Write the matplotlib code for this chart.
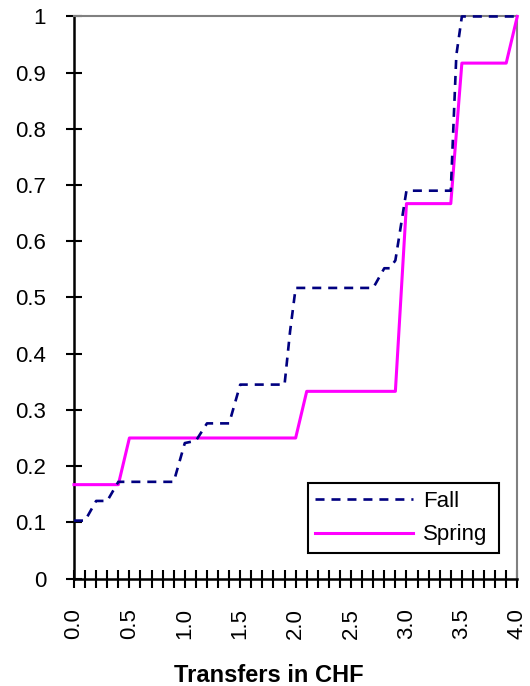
import numpy as np
import matplotlib
matplotlib.use('Agg')
import matplotlib.pyplot as plt

plt.rcParams['font.family'] = ['Liberation Sans', 'DejaVu Sans']
plt.rcParams['lines.scale_dashes'] = False

# --- data ---
fall_x = [0.0, 0.1, 0.2, 0.3, 0.4, 0.9, 1.0, 1.1, 1.2, 1.4, 1.5, 1.9, 1.95, 2.0,
          2.7, 2.8, 2.85, 2.9, 3.0, 3.4, 3.45, 3.5, 4.0]
fall_y = [0.103, 0.103, 0.138, 0.138, 0.172, 0.172, 0.241, 0.245, 0.276, 0.276, 0.345,
          0.345, 0.44, 0.517, 0.517, 0.552, 0.552, 0.566, 0.690, 0.690, 0.931, 1.0, 1.0]

spring_x = [0.0, 0.4, 0.5, 2.0, 2.1, 2.9, 3.0, 3.4, 3.5, 3.9, 4.0]
spring_y = [0.167, 0.167, 0.25, 0.25, 0.333, 0.333, 0.667, 0.667, 0.917, 0.917, 1.0]

x_major = [0.0, 0.5, 1.0, 1.5, 2.0, 2.5, 3.0, 3.5, 4.0]
x_labels = ['0.0', '0.5', '1.0', '1.5', '2.0', '2.5', '3.0', '3.5', '4.0']
y_ticks = [0.0, 0.1, 0.2, 0.3, 0.4, 0.5, 0.6, 0.7, 0.8, 0.9, 1.0]
y_labels = ['0', '0.1', '0.2', '0.3', '0.4', '0.5', '0.6', '0.7', '0.8', '0.9', '1']

fig = plt.figure(figsize=(5.3, 6.86), dpi=100)
ax = fig.add_axes([0.1396, 0.1567, 0.8364, 0.8193])

ax.plot(fall_x, fall_y, color='#000080', linewidth=1.9, linestyle=(0, (6.5, 5.0)),
        label='Fall', clip_on=False, zorder=4)
ax.plot(spring_x, spring_y, color='#FF00FF', linewidth=2.2, label='Spring',
        clip_on=False, zorder=3)

ax.set_xlim(0, 4)
ax.set_ylim(0, 1)

ax.set_xticks(x_major)
ax.set_xticklabels(x_labels, rotation=90, fontsize=16)
ax.set_xticks(np.arange(0, 4.01, 0.1), minor=True)
ax.set_yticks(y_ticks)
ax.set_yticklabels(y_labels, fontsize=16)

ax.tick_params(axis='x', which='both', direction='inout', length=13, width=1.5, pad=15)
ax.tick_params(axis='y', which='both', direction='inout', length=12, width=1.5, pad=14)

for side in ['left', 'bottom']:
    ax.spines[side].set_color('black')
    ax.spines[side].set_linewidth(1.8)
for side in ['top', 'right']:
    ax.spines[side].set_color('#808080')
    ax.spines[side].set_linewidth(1.5)

ax.set_xlabel('Transfers in CHF', fontsize=17, fontweight='bold')
ax.xaxis.set_label_coords(0.44, -0.152)

leg = ax.legend(loc='lower left', bbox_to_anchor=(0.527, 0.045, 0.432, 0.132),
                mode='expand', borderaxespad=0, fontsize=16, handlelength=4.4,
                labelspacing=0.55, borderpad=0.35, handletextpad=0.45,
                fancybox=False, framealpha=1)
leg.get_frame().set_edgecolor('black')
leg.get_frame().set_linewidth(1.5)

fig.savefig('out.png', dpi=100)
